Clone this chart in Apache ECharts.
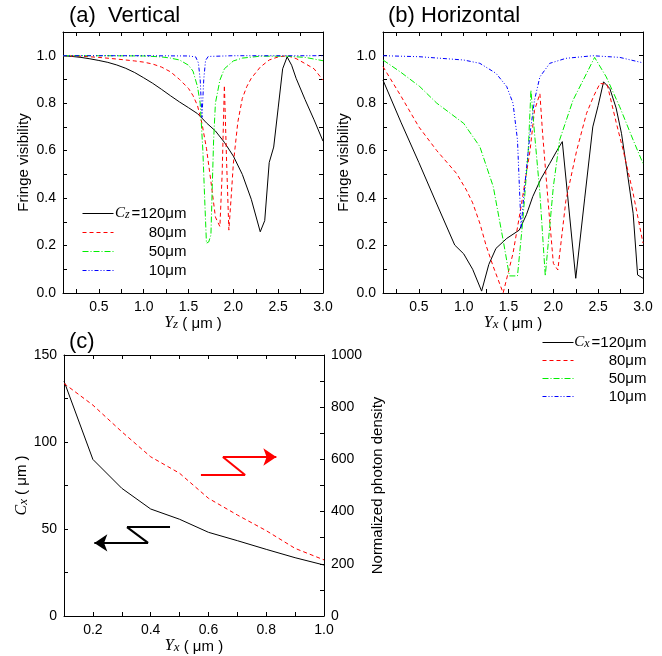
<!DOCTYPE html>
<html><head><meta charset="utf-8">
<script src="https://cdn.jsdelivr.net/npm/echarts@6/dist/echarts.min.js"></script>
<style>html,body{margin:0;padding:0;background:#fff}#c{width:662px;height:656px}</style>
</head><body><div id="c"></div>
<script>
// ---------- data ----------
// (a) Vertical : [Yz (um), fringe visibility]
const vert120 = [[0.1,1.0],[0.2,0.997],[0.3,0.993],[0.4,0.987],[0.5,0.98],[0.6,0.972],[0.7,0.961],[0.8,0.947],[0.9,0.929],[1.0,0.907],[1.1,0.884],[1.2,0.858],[1.3,0.831],[1.4,0.805],[1.5,0.781],[1.6,0.756],[1.65,0.737],[1.7,0.717],[1.8,0.683],[1.9,0.635],[2.0,0.577],[2.1,0.5],[2.2,0.395],[2.3,0.258],[2.35,0.305],[2.4,0.55],[2.45,0.615],[2.5,0.78],[2.55,0.945],[2.6,0.995],[2.65,0.96],[2.7,0.905],[2.8,0.815],[2.9,0.73],[3.0,0.64]];
const vert80 = [[0.1,1.0],[0.3,0.998],[0.5,0.993],[0.7,0.986],[0.9,0.978],[1.0,0.973],[1.1,0.965],[1.2,0.952],[1.3,0.932],[1.4,0.9],[1.5,0.862],[1.55,0.832],[1.6,0.79],[1.65,0.715],[1.7,0.61],[1.75,0.47],[1.8,0.32],[1.85,0.28],[1.875,0.5],[1.9,0.875],[1.925,0.55],[1.95,0.265],[1.975,0.4],[2.0,0.545],[2.05,0.72],[2.1,0.82],[2.15,0.87],[2.2,0.905],[2.3,0.952],[2.4,0.982],[2.5,0.995],[2.6,1.0],[2.7,0.988],[2.8,0.967],[2.9,0.945],[3.0,0.897]];
const vert50 = [[0.1,1.0],[0.5,1.0],[1.0,0.999],[1.2,0.995],[1.3,0.99],[1.4,0.982],[1.5,0.96],[1.55,0.935],[1.6,0.87],[1.63,0.8],[1.66,0.6],[1.68,0.4],[1.7,0.21],[1.725,0.215],[1.75,0.245],[1.765,0.45],[1.78,0.645],[1.8,0.8],[1.85,0.897],[1.9,0.945],[2.0,0.978],[2.1,0.99],[2.3,0.998],[2.6,0.998],[2.8,0.993],[3.0,0.979]];
const vert10 = [[0.1,1.0],[1.0,1.0],[1.5,0.999],[1.58,0.995],[1.61,0.97],[1.63,0.9],[1.65,0.74],[1.67,0.9],[1.69,0.98],[1.72,0.997],[2.0,1.0],[3.0,1.0]];
// (b) Horizontal : [Yx (um), fringe visibility]
const horz120 = [[0.1,0.897],[0.3,0.72],[0.5,0.55],[0.7,0.375],[0.9,0.202],[1.0,0.165],[1.1,0.1],[1.2,0.008],[1.28,0.12],[1.36,0.188],[1.48,0.23],[1.62,0.265],[1.7,0.33],[1.77,0.406],[1.86,0.48],[1.96,0.546],[2.04,0.6],[2.1,0.638],[2.25,0.062],[2.35,0.4],[2.44,0.7],[2.5,0.79],[2.56,0.89],[2.63,0.862],[2.7,0.78],[2.76,0.673],[2.82,0.52],[2.89,0.336],[2.94,0.076],[3.0,0.062]];
const horz80 = [[0.1,0.954],[0.3,0.83],[0.5,0.70],[0.7,0.6],[0.92,0.504],[1.03,0.434],[1.1,0.38],[1.18,0.294],[1.25,0.2],[1.33,0.111],[1.44,0.0],[1.55,0.167],[1.64,0.364],[1.74,0.6],[1.79,0.77],[1.85,0.84],[1.88,0.673],[1.94,0.392],[2.0,0.125],[2.05,0.097],[2.14,0.39],[2.26,0.6],[2.37,0.757],[2.45,0.83],[2.52,0.883],[2.6,0.88],[2.7,0.72],[2.78,0.6],[2.89,0.42],[3.0,0.21]];
const horz50 = [[0.1,0.982],[0.3,0.93],[0.51,0.87],[0.7,0.8],[1.0,0.715],[1.18,0.617],[1.33,0.448],[1.44,0.223],[1.51,0.072],[1.6,0.072],[1.66,0.308],[1.72,0.6],[1.75,0.855],[1.79,0.673],[1.85,0.42],[1.91,0.072],[2.0,0.448],[2.07,0.645],[2.22,0.813],[2.37,0.925],[2.46,0.993],[2.59,0.911],[2.74,0.785],[2.89,0.645],[3.0,0.546]];
const horz10 = [[0.1,1.0],[0.5,0.996],[1.0,0.982],[1.18,0.968],[1.36,0.926],[1.48,0.87],[1.55,0.8],[1.6,0.645],[1.64,0.275],[1.68,0.448],[1.74,0.673],[1.79,0.813],[1.85,0.911],[1.96,0.968],[2.14,0.989],[2.44,1.0],[2.74,0.993],[3.0,0.97]];
// (c)
const cYx = [0.1,0.2,0.3,0.4,0.5,0.6,0.7,0.8,0.9,1.0];
const cCx = [135,90,73.4,61.5,55.6,48.1,43.3,38.3,33.5,29.3];
const cDensity = [891,808,706,610,547,451,387,327,259,215];
// annotation arrows in (c), data coords [Yx, Cx]
const redArrow = [[0.574,81],[0.727,81],[0.65,91.4],[0.835,91.4]];
const blackArrow = [[0.467,51.1],[0.318,51.1],[0.391,42],[0.205,42]];
// ticks / labels
const visLabels = [0,0.2,0.4,0.6,0.8,1.0];
const visTicks = [0,0.1,0.2,0.3,0.4,0.5,0.6,0.7,0.8,0.9,1.0,1.1];
const yLabels = [0.5,1.0,1.5,2.0,2.5,3.0];
const yTicks = [0.25,0.5,0.75,1.0,1.25,1.5,1.75,2.0,2.25,2.5,2.75,3.0];
const cxLabels = [0.2,0.4,0.6,0.8,1.0];
const cxTicks = [0.1,0.2,0.3,0.4,0.5,0.6,0.7,0.8,0.9,1.0];
const cLeftLabels = [0,50,100,150];
const cLeftTicks = [0,25,50,75,100,125,150];
const cRightLabels = [0,200,400,600,800,1000];
const cRightTicks = [0,100,200,300,400,500,600,700,800,900,1000];

// ---------- chart ----------
const FONT = '"Liberation Sans", Arial, sans-serif';
const SERIF = '"Liberation Serif", "Times New Roman", serif';
const nameRich = {
  i:{fontFamily:SERIF, fontStyle:'italic', fontSize:16, color:'#000', verticalAlign:'bottom'},
  s:{fontFamily:SERIF, fontStyle:'italic', fontSize:13, color:'#000', verticalAlign:'bottom'},
  t:{fontFamily:FONT, fontSize:15, color:'#000', verticalAlign:'bottom'}
};
function axisBase(grid, min, max, pos, labels, ticks, showLabel, fmt){
  return {type:'value', gridIndex:grid, min:min, max:max, position:pos,
    axisLine:{show:true, onZero:false, lineStyle:{color:'#000', width:1}},
    axisTick:{show:true, inside:true, length:4, customValues:ticks, lineStyle:{color:'#000', width:1}},
    axisLabel:{show:showLabel, customValues:labels, formatter:fmt, color:'#000', fontSize:14, fontFamily:FONT, margin:7},
    splitLine:{show:false}, minorTick:{show:false}};
}
const f1 = v => (+v).toFixed(1);
const f0 = v => String(Math.round(v));

const xAxes = [
  Object.assign(axisBase(0,0.1,3.0,'bottom',yLabels,yTicks,true,f1),{name:'{i|Y}{s|z}{t| ( μm )}', nameLocation:'middle', nameGap:20, nameTextStyle:{rich:nameRich}}),
  axisBase(0,0.1,3.0,'top',yLabels,yTicks,false,f1),
  Object.assign(axisBase(1,0.1,3.0,'bottom',yLabels,yTicks,true,f1),{name:'{i|Y}{s|x}{t| ( μm )}', nameLocation:'middle', nameGap:20, nameTextStyle:{rich:nameRich}}),
  axisBase(1,0.1,3.0,'top',yLabels,yTicks,false,f1),
  Object.assign(axisBase(2,0.1,1.0,'bottom',cxLabels,cxTicks,true,f1),{name:'{i|Y}{s|x}{t| ( μm )}', nameLocation:'middle', nameGap:20, nameTextStyle:{rich:nameRich}}),
  axisBase(2,0.1,1.0,'top',cxLabels,cxTicks,false,f1)
];
const yAxes = [
  Object.assign(axisBase(0,0,1.1,'left',visLabels,visTicks,true,f1),{name:'Fringe visibility', nameLocation:'middle', nameGap:32, nameRotate:90, nameTextStyle:{fontFamily:FONT, fontSize:15, color:'#000'}}),
  axisBase(0,0,1.1,'right',visLabels,visTicks,false,f1),
  Object.assign(axisBase(1,0,1.1,'left',visLabels,visTicks,true,f1),{name:'Fringe visibility', nameLocation:'middle', nameGap:32, nameRotate:90, nameTextStyle:{fontFamily:FONT, fontSize:15, color:'#000'}}),
  axisBase(1,0,1.1,'right',visLabels,visTicks,false,f1),
  Object.assign(axisBase(2,0,150,'left',cLeftLabels,cLeftTicks,true,f0),{name:'{i|C}{s|x}{t| ( μm )}', nameLocation:'middle', nameGap:32, nameRotate:90, nameTextStyle:{rich:nameRich}}),
  Object.assign(axisBase(2,0,1000,'right',cRightLabels,cRightTicks,true,f0),{name:'Normalized photon density', nameLocation:'middle', nameGap:46, nameRotate:90, nameTextStyle:{fontFamily:FONT, fontSize:15, color:'#000'}})
];

const styles = [
  {color:'#000000', type:'solid'},
  {color:'#ff0000', type:[4,3]},
  {color:'#00ee00', type:[6,2,1,2]},
  {color:'#0000ff', type:[4,2,1,2,1,2]}
];
function lineSeries(name, data, xi, yi, st){
  return {name:name, type:'line', xAxisIndex:xi, yAxisIndex:yi, data:data, symbol:'none', showSymbol:false,
    lineStyle:{color:st.color, width:1, type:st.type}, itemStyle:{color:st.color}, animation:false, z:3};
}
const aNames = ['a120','a80','a50','a10'];
const bNames = ['b120','b80','b50','b10'];
const legendText = {
  a120:'{i|C}{s|z}{e|=120μm}', a80:'{t|80μm}', a50:'{t|50μm}', a10:'{t|10μm}',
  b120:'{i|C}{s|x}{e|=120μm}', b80:'{t|80μm}', b50:'{t|50μm}', b10:'{t|10μm}'
};
const legRich = {
  i:{fontFamily:SERIF, fontStyle:'italic', fontSize:15, color:'#000', align:'right', verticalAlign:'bottom'},
  s:{fontFamily:SERIF, fontStyle:'italic', fontSize:12, color:'#000', align:'right', verticalAlign:'bottom'},
  e:{fontFamily:FONT, fontSize:15, color:'#000', align:'right', verticalAlign:'bottom', padding:[0,0,0,2]},
  t:{fontFamily:FONT, fontSize:15, color:'#000', align:'right', verticalAlign:'bottom'}
};
const series = [];
[vert120,vert80,vert50,vert10].forEach((d,k)=>series.push(lineSeries(aNames[k], d, 0, 0, styles[k])));
[horz120,horz80,horz50,horz10].forEach((d,k)=>series.push(lineSeries(bNames[k], d, 2, 2, styles[k])));
series.push(lineSeries('Cx', cYx.map((x,k)=>[x,cCx[k]]), 4, 4, styles[0]));
series.push(lineSeries('density', cYx.map((x,k)=>[x,cDensity[k]]), 4, 5, styles[1]));
function arrowSeries(pts, color){
  const body = [], head = [];
  for (let k = 0; k < pts.length - 1; k++) {
    (k === pts.length - 2 ? head : body).push({coords:[pts[k], pts[k+1]]});
  }
  const base = {type:'lines', coordinateSystem:'cartesian2d', xAxisIndex:4, yAxisIndex:4, silent:true,
    lineStyle:{color:color, width:2, opacity:1, curveness:0}, animation:false, z:5};
  return [
    Object.assign({}, base, {symbol:['none','none'], data:body}),
    Object.assign({}, base, {symbol:['none','arrow'], symbolSize:13, data:head})
  ];
}
series.push(...arrowSeries(redArrow, '#ff0000'));
series.push(...arrowSeries(blackArrow, '#000000'));

function legend(names, left, top, gap){
  return {data:names, orient:'vertical', left:left, top:top, itemWidth:31, itemHeight:14, itemGap:gap, padding:0,
    selectedMode:false, formatter:n=>legendText[n], textStyle:{width:68, rich:legRich},
    lineStyle:{color:'inherit', width:1, type:'inherit', opacity:'inherit'},
    itemStyle:{color:'rgba(0,0,0,0)', borderColor:'rgba(0,0,0,0)', borderWidth:0, opacity:0}};
}
const titleStyle = {fontSize:22, fontWeight:'normal', fontFamily:FONT, color:'#000'};
const option = {
  backgroundColor:'#fff', animation:false,
  title:[
    {text:'(a)  Vertical', left:69, top:5, padding:0, textStyle:titleStyle},
    {text:'(b) Horizontal', left:388, top:5, padding:0, textStyle:titleStyle},
    {text:'(c)', left:69, top:331, padding:0, textStyle:titleStyle}
  ],
  grid:[
    {left:63, top:32, width:260, height:261},
    {left:383, top:32, width:260, height:261},
    {left:64, top:355, width:260, height:261}
  ],
  legend:[legend(aNames, 82, 206, 4), legend(bNames, 542, 335, 3)],
  xAxis:xAxes, yAxis:yAxes, series:series
};
const chart = echarts.init(document.getElementById('c'), null, {renderer:'canvas'});
chart.setOption(option);
</script></body></html>
